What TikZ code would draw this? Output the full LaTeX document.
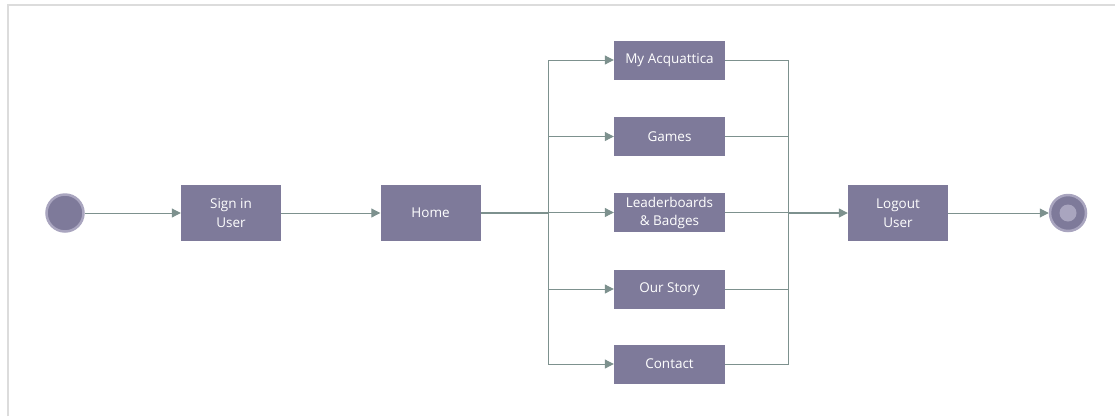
\documentclass[tikz,border=0pt]{standalone}
\usepackage{fontspec}
\setmainfont{Open Sans}
\usetikzlibrary{arrows.meta}
\definecolor{boxfill}{HTML}{7E7A9A}
\definecolor{ringcol}{HTML}{A9A5BF}
\definecolor{linecol}{HTML}{7D918E}
\definecolor{framecol}{HTML}{DCDCDC}
\begin{document}
\begin{tikzpicture}[x=1pt,y=-1pt,
  actbox/.style={rectangle,fill=boxfill,text=white,inner sep=0pt,
    align=center,font=\fontsize{13.5}{19}\selectfont},
  wide/.style={actbox,minimum width=100pt,minimum height=56pt},
  menu/.style={actbox,minimum width=111pt,minimum height=39pt},
  flow/.style={draw=linecol,line width=1pt},
  arr/.style={flow,-{Triangle[length=9pt,width=9pt]}}]
\useasboundingbox (0,0) rectangle (1115,416);
% frame
\draw[framecol,line width=2pt] (8,416) -- (8,5) -- (1115,5);
% start and end states
\node[circle,fill=boxfill,draw=ringcol,line width=2.5pt,minimum size=37pt,inner sep=0pt] (start) at (65,213) {};
\node[circle,fill=boxfill,draw=ringcol,line width=2.5pt,minimum size=36pt,inner sep=0pt] (stop) at (1068,213) {};
\node[circle,fill=ringcol,minimum size=17pt,inner sep=0pt] (stopdot) at (stop) {};
% activities
\node[wide] (signin) at (231,213) {Sign in\\User};
\node[wide] (home) at (430.5,213) {Home};
\node[menu] (acq) at (669.5,60) {My Acquattica};
\node[menu] (games) at (669.5,136.5) {Games};
\node[menu] (lead) at (669.5,212.5) {Leaderboards\\[-1pt]\& Badges};
\node[menu] (story) at (669.5,289) {Our Story};
\node[menu] (contact) at (669.5,364) {Contact};
\node[wide] (logout) at (898,213) {Logout\\User};
% fork and join points
\coordinate (fork) at (548,213);
\coordinate (join) at (788,213);
% connectors
\draw[arr] (start) -- (signin);
\draw[arr] (signin) -- (home);
\draw[flow,line width=1.6pt] (home) -- (fork);
\foreach \n in {acq,games,lead,story,contact}{
  \draw[arr] (fork) |- (\n);
  \draw[flow] (\n) -| (join);
}
\draw[arr,line width=1.4pt] (join) -- (logout);
\draw[arr] (logout) -- (stop);
\end{tikzpicture}
\end{document}
